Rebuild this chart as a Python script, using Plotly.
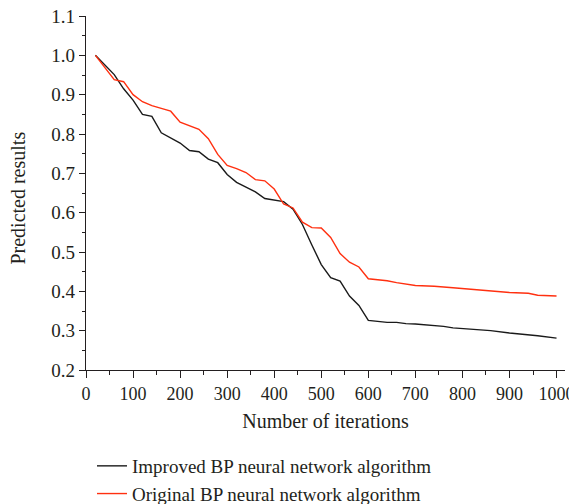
import plotly.graph_objects as go

improved_x = [20, 40, 60, 80, 100, 120, 140, 160, 180, 200, 220, 240, 260, 280, 300, 320, 340, 360, 380,
              420, 440, 460, 480, 500, 520, 540, 560, 580, 600, 640, 660, 680, 700, 740, 760, 780, 820,
              860, 900, 940, 960, 1000]
improved_y = [1.0, 0.975, 0.951, 0.915, 0.886, 0.850, 0.845, 0.803, 0.791, 0.777, 0.758, 0.755, 0.736,
              0.727, 0.697, 0.677, 0.665, 0.653, 0.636, 0.628, 0.609, 0.570, 0.518, 0.468, 0.435, 0.426,
              0.388, 0.364, 0.326, 0.321, 0.321, 0.318, 0.317, 0.313, 0.311, 0.307, 0.303, 0.300, 0.294,
              0.290, 0.287, 0.281]

original_x = [20, 40, 60, 80, 100, 120, 140, 160, 180, 200, 220, 240, 260, 280, 300, 320, 340, 360, 380,
              400, 420, 440, 460, 480, 500, 520, 540, 560, 580, 600, 640, 660, 700, 740, 780, 800, 860,
              900, 940, 960, 1000]
original_y = [1.0, 0.97, 0.938, 0.933, 0.900, 0.882, 0.872, 0.865, 0.858, 0.830, 0.822, 0.812, 0.788,
              0.748, 0.720, 0.712, 0.702, 0.684, 0.681, 0.660, 0.622, 0.612, 0.576, 0.562, 0.561, 0.537,
              0.496, 0.474, 0.462, 0.432, 0.427, 0.422, 0.415, 0.413, 0.409, 0.407, 0.401, 0.397, 0.395,
              0.390, 0.388]

series_names = ["Improved BP neural network algorithm", "Original BP neural network algorithm"]
x_title = "Number of iterations"
y_title = "Predicted results"

FONT = "Liberation Serif"
TXT = "#231f20"

# page body has an 8px default margin, so the figure is 8px smaller than the window
W, H = 569, 496

fig = go.Figure()
fig.add_trace(go.Scatter(x=improved_x, y=improved_y, mode="lines", name=series_names[0],
                         line=dict(color="#1a1a1a", width=1.4)))
fig.add_trace(go.Scatter(x=original_x, y=original_y, mode="lines", name=series_names[1],
                         line=dict(color="#ff3010", width=1.4)))

fig.update_layout(
    width=W, height=H,
    margin=dict(l=78, r=12, t=8, b=134, autoexpand=False),
    paper_bgcolor="white", plot_bgcolor="white",
    font=dict(family=FONT, size=19, color=TXT),
    showlegend=True,
    legend=dict(xref="container", yref="container", x=84 / W, y=1 - 439 / H,
                xanchor="left", yanchor="top",
                font=dict(family=FONT, size=19, color=TXT),
                bgcolor="rgba(0,0,0,0)", tracegroupgap=0, itemwidth=30),
    annotations=[dict(text=y_title, xref="paper", yref="paper", x=-0.142, y=0.487,
                      xanchor="center", yanchor="middle", textangle=-90, showarrow=False,
                      font=dict(family=FONT, size=20, color=TXT))],
)
fig.update_xaxes(
    range=[0, 1018], tickmode="linear", tick0=0, dtick=100, tickangle=0,
    ticklabeloverflow="allow",
    showline=True, linecolor="#231f20", linewidth=1.2,
    ticks="outside", ticklen=7, tickwidth=1.2, tickcolor="#231f20",
    minor=dict(dtick=50, tick0=0, ticks="outside", ticklen=4, tickwidth=1, tickcolor="#231f20"),
    showgrid=False, zeroline=False,
    title=dict(text=x_title, font=dict(family=FONT, size=20, color=TXT), standoff=11),
    tickfont=dict(family=FONT, size=18, color=TXT),
)
fig.update_yaxes(
    range=[0.2, 1.1], tickmode="linear", tick0=0.2, dtick=0.1, tickformat=".1f",
    ticklabeloverflow="allow",
    showline=True, linecolor="#231f20", linewidth=1.2,
    ticks="outside", ticklen=6, tickwidth=1.2, tickcolor="#231f20",
    minor=dict(dtick=0.05, tick0=0.2, ticks="outside", ticklen=3, tickwidth=1, tickcolor="#231f20"),
    showgrid=False, zeroline=False,
    tickfont=dict(family=FONT, size=19, color=TXT),
)

fig.write_html("out.html")
